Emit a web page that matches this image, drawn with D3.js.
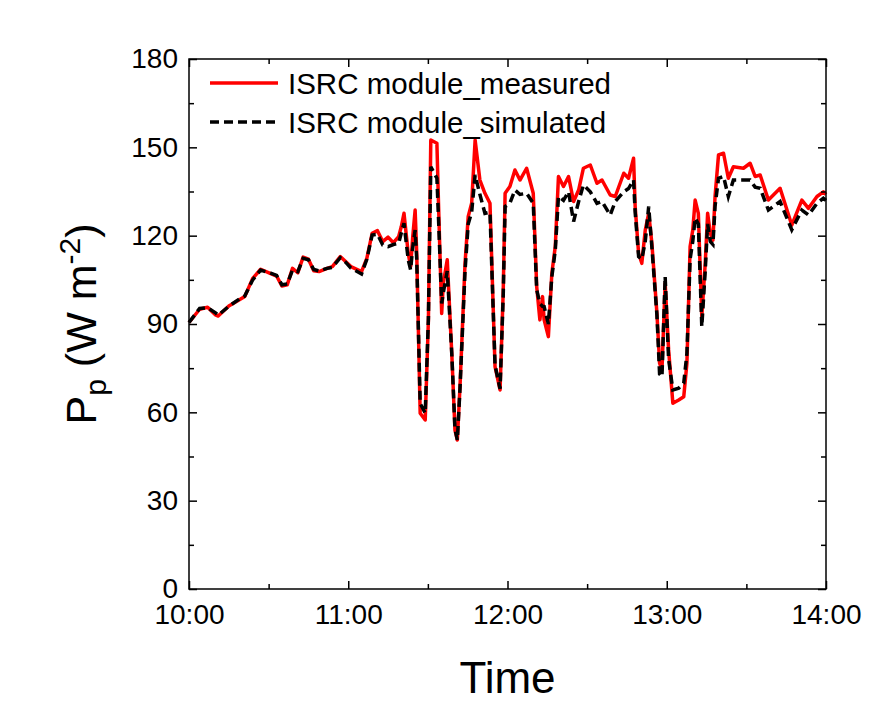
<!DOCTYPE html>
<html>
<head>
<meta charset="utf-8">
<script src="https://cdn.jsdelivr.net/npm/d3@7"></script>
<style>
  body { margin: 0; background: #fff; }
  text { font-family: "Liberation Sans", Arial, sans-serif; fill: #000; }
</style>
</head>
<body>
<div id="chart"></div>
<script>
/* Pp of ISRC module, measured vs simulated, 10:00 - 14:00 */

// minutes after 10:00
const minutes = [
  0, 4, 7, 10, 11, 15, 19, 21, 24, 27,
  31, 33, 35, 37, 39, 41, 43, 45, 47, 49,
  52, 54, 57, 59, 61, 65, 67, 69, 71, 73,
  75, 77, 79, 80, 81, 82.6, 83.5, 84.3, 85.2, 85.8,
  87.1, 89, 90.2, 91.1, 93.4, 94, 95.2, 95.8, 97.3, 99,
  100.2, 101.1, 102.1, 104, 105.2, 106.5, 107.8, 109.6, 111.5, 113.4,
  114.6, 115.3, 117.2, 118.4, 119.1, 120.9, 122.8, 124.7, 127.2, 129.7,
  131, 132.2, 133.2, 133.8, 135.4, 136.7, 138, 139.2, 141.1, 143,
  144.9, 146.8, 148.6, 151.2, 153.7, 155.6, 158.7, 160.6, 163.8, 165.6,
  167.5, 168.1, 169.4, 170.6, 171.9, 173.2, 174.4, 176.3, 177.3, 178.2,
  179.4, 180.7, 182.3, 184.5, 186.4, 187.6, 188.8, 189.8, 190.7, 191.9,
  193.2, 194.5, 195.4, 196.4, 197.4, 198.2, 199.5, 201.4, 203.2, 205.1,
  208.9, 211.4, 213.3, 215.2, 218.3, 222.7, 227.1, 230.9, 233.4, 236.6,
  239, 240
];

const measured = [
  90.5, 95.0, 95.7, 93.1, 92.7, 96.1, 98.2, 99.3, 105.5, 108.6,
  107.0, 106.3, 102.9, 103.3, 108.9, 107.4, 112.7, 112.0, 108.1, 107.8,
  108.9, 109.5, 112.9, 111.2, 109.5, 107.8, 112.3, 120.8, 121.7, 118.0,
  119.5, 117.6, 119.7, 123.1, 127.6, 114.0, 109.5, 119.7, 128.7, 114.0,
  59.7, 57.4, 91.4, 152.5, 151.4, 131.0, 93.6, 103.8, 111.8, 80.1,
  54.0, 50.6, 68.7, 110.6, 126.5, 131.0, 152.5, 138.9, 134.4, 131.0,
  95.9, 75.5, 67.6, 101.6, 134.4, 136.7, 142.3, 138.9, 142.9, 134.4,
  102.7, 91.4, 99.3, 91.4, 85.7, 107.2, 116.3, 140.1, 136.7, 140.1,
  131.6, 135.5, 142.9, 144.0, 137.8, 138.9, 133.8, 133.3, 141.2, 139.5,
  146.3, 129.9, 114.0, 110.6, 121.9, 127.6, 117.4, 93.6, 76.7, 74.4,
  103.8, 81.2, 63.1, 64.2, 65.3, 76.7, 116.3, 121.9, 132.1, 127.6,
  92.5, 110.6, 127.6, 120.8, 118.5, 133.3, 147.4, 148.0, 139.5, 143.4,
  142.9, 144.6, 140.1, 140.6, 132.1, 136.1, 123.6, 132.1, 129.3, 133.3,
  134.9, 134.0
];

const simulated = [
  90.5, 95.3, 95.5, 93.8, 93.0, 96.0, 98.5, 99.5, 105.0, 108.3,
  107.2, 106.5, 103.3, 103.6, 108.3, 107.8, 112.3, 111.8, 108.5, 108.0,
  108.9, 109.2, 112.5, 111.0, 109.0, 107.0, 112.0, 120.2, 120.5, 116.8,
  116.3, 117.0, 117.4, 121.0, 124.2, 111.8, 108.4, 116.0, 121.9, 112.0,
  63.0, 59.7, 92.0, 143.4, 139.5, 126.0, 97.0, 100.5, 108.0, 80.0,
  54.5, 50.6, 68.0, 108.0, 124.0, 128.0, 140.6, 134.0, 127.6, 128.0,
  95.0, 76.0, 68.0, 100.0, 129.9, 131.0, 135.5, 134.0, 134.4, 131.0,
  101.6, 97.0, 96.0, 95.9, 90.0, 106.0, 115.0, 133.3, 132.0, 134.9,
  124.8, 131.6, 137.2, 134.9, 131.0, 131.6, 127.0, 131.6, 134.9, 136.0,
  138.9, 128.0, 112.9, 112.0, 118.0, 129.9, 116.0, 93.0, 73.0, 72.1,
  106.1, 78.0, 67.6, 68.2, 69.9, 80.0, 112.0, 118.0, 126.0, 124.0,
  89.1, 108.0, 124.0, 118.0, 117.0, 130.0, 139.5, 140.1, 133.3, 138.9,
  138.9, 138.9, 136.5, 136.1, 128.7, 131.6, 122.0, 128.7, 127.0, 131.0,
  132.7, 132.0
];

const yTicks = [0, 30, 60, 90, 120, 150, 180];
const yMinor = [15, 45, 75, 105, 135, 165];
const seriesNames = ["ISRC module_measured", "ISRC module_simulated"];

const width = 896,
      height = 728,
      margin = ({ top: 59, right: 70, bottom: 139, left: 189 });

const t0 = new Date(2020, 0, 1, 10, 0);
const toTime = m => new Date(t0.getTime() + m * 60000);

let svg = d3.select("#chart")
    .append("svg")
    .attr("width", width)
    .attr("height", height)
    .attr("viewBox", [0, 0, width, height]);

svg.append("rect").attr("width", width).attr("height", height).attr("fill", "#fff");

let x = d3.scaleTime()
    .domain([toTime(0), toTime(240)])
    .range([margin.left, width - margin.right]);

let y = d3.scaleLinear()
    .domain([0, 180])
    .range([height - margin.bottom, margin.top]);

const hours = d3.timeHour.range(toTime(0), toTime(241));
const halfHours = d3.timeMinute.every(30).range(toTime(0), toTime(241)).filter(d => d.getMinutes() === 30);

// lines
const lineGen = vals => d3.line()
    .x((d, i) => x(toTime(minutes[i])))
    .y(d => y(d))(vals);

svg.append("path")
    .attr("d", lineGen(measured))
    .attr("fill", "none")
    .attr("stroke", "#ff0000")
    .attr("stroke-width", 3.5)
    .attr("stroke-linejoin", "round");

svg.append("path")
    .attr("d", lineGen(simulated))
    .attr("fill", "none")
    .attr("stroke", "#000")
    .attr("stroke-width", 3.5)
    .attr("stroke-dasharray", "9,5");

// frame
svg.append("rect")
    .attr("x", margin.left)
    .attr("y", margin.top)
    .attr("width", width - margin.left - margin.right)
    .attr("height", height - margin.top - margin.bottom)
    .attr("fill", "none")
    .attr("stroke", "#000")
    .attr("stroke-width", 1.5);

const bottom = height - margin.bottom, right = width - margin.right;

// axes, ticks pointing inwards
const xAxis = g => g
    .attr("transform", `translate(0, ${bottom})`)
    .call(d3.axisBottom(x).tickValues(hours).tickFormat(d3.timeFormat("%H:%M")).tickSize(-8).tickPadding(15))
    .call(g => g.select(".domain").remove());

const xMinor = g => g
    .attr("transform", `translate(0, ${bottom})`)
    .call(d3.axisBottom(x).tickValues(halfHours).tickFormat("").tickSize(-5))
    .call(g => g.select(".domain").remove());

const yAxis = g => g
    .attr("transform", `translate(${margin.left}, 0)`)
    .call(d3.axisLeft(y).tickValues(yTicks).tickSize(-8).tickPadding(11))
    .call(g => g.select(".domain").remove());

const yMinorAxis = g => g
    .attr("transform", `translate(${margin.left}, 0)`)
    .call(d3.axisLeft(y).tickValues(yMinor).tickFormat("").tickSize(-5))
    .call(g => g.select(".domain").remove());

svg.append("g").call(xAxis);
svg.append("g").call(xMinor);
svg.append("g").call(yAxis);
svg.append("g").call(yMinorAxis);

// top and right mirror ticks
svg.append("g").attr("transform", `translate(0, ${margin.top})`)
    .call(d3.axisTop(x).tickValues(hours).tickFormat("").tickSize(-8))
    .call(g => g.select(".domain").remove());
svg.append("g").attr("transform", `translate(0, ${margin.top})`)
    .call(d3.axisTop(x).tickValues(halfHours).tickFormat("").tickSize(-5))
    .call(g => g.select(".domain").remove());
svg.append("g").attr("transform", `translate(${right}, 0)`)
    .call(d3.axisRight(y).tickValues(yTicks).tickFormat("").tickSize(-8))
    .call(g => g.select(".domain").remove());
svg.append("g").attr("transform", `translate(${right}, 0)`)
    .call(d3.axisRight(y).tickValues(yMinor).tickFormat("").tickSize(-5))
    .call(g => g.select(".domain").remove());

svg.selectAll(".tick line").attr("stroke", "#000").attr("stroke-width", 1.5);
svg.selectAll(".tick text")
    .style("font-family", "'Liberation Sans', Arial, sans-serif")
    .style("font-size", "28px")
    .attr("fill", "#000");

// axis titles
svg.append("text")
    .attr("x", (margin.left + right) / 2)
    .attr("y", 693)
    .attr("text-anchor", "middle")
    .style("font-size", "44px")
    .text("Time");

let yTitle = svg.append("text")
    .attr("transform", `translate(96, ${(margin.top + bottom) / 2}) rotate(-90)`)
    .attr("text-anchor", "middle")
    .style("font-size", "43px");
yTitle.append("tspan").text("P");
yTitle.append("tspan").attr("dy", 10).style("font-size", "30px").text("p");
yTitle.append("tspan").attr("dy", -10).text(" (W m");
yTitle.append("tspan").attr("dy", -16).style("font-size", "30px").text("-2");
yTitle.append("tspan").attr("dy", 16).text(")");

// legend
const legend = svg.append("g");
const legendRows = [
    { name: seriesNames[0], stroke: "#ff0000", dash: null },
    { name: seriesNames[1], stroke: "#000", dash: "9,5" }
];
legendRows.forEach((r, i) => {
    const ly = 83 + i * 39;
    legend.append("line")
        .attr("x1", 210).attr("x2", 278)
        .attr("y1", ly).attr("y2", ly)
        .attr("stroke", r.stroke)
        .attr("stroke-width", 3.5)
        .attr("stroke-dasharray", r.dash);
    legend.append("text")
        .attr("x", 288)
        .attr("y", ly + 10.5)
        .style("font-size", "29.5px")
        .text(r.name);
});
</script>
</body>
</html>
